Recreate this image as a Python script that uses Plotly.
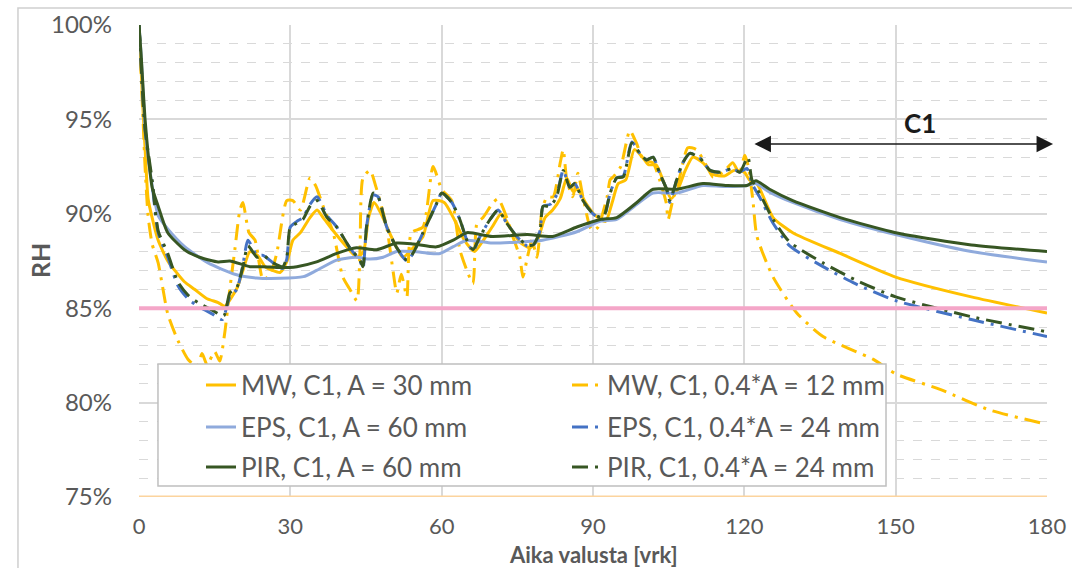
import plotly.graph_objects as go

# ---------------- data ----------------
mw_a_day = [0, 0.4, 0.8, 1.2, 1.8, 2.6, 3.8, 5.7, 7.1, 9, 11, 13.5, 15.7, 17, 18.4, 19.5, 20.6, 22,
            23.5, 25, 26.5, 28, 29.5, 30.5, 32, 33.9, 35.3, 36.5, 38.5, 41, 43.2, 44.5, 45.5, 46.6,
            48, 50, 52.3, 54, 56.3, 58.3, 60.5, 62.5, 64.5, 66.5, 68, 70, 71.8, 73.5, 75.5, 77.5,
            79, 80.5, 82, 83.5, 84.8, 86, 87, 88.5, 90.5, 92.5, 93.8, 95, 96.5, 98.2, 99.8, 101,
            102.5, 104, 105.5, 107, 108.3, 109.8, 111.8, 113.8, 116, 118, 120, 121, 122.5, 125.7,
            129.6, 139, 150, 165, 180]
mw_a_rh = [100, 97.8, 95.5, 93.5, 90.8, 89.8, 88.6, 87.5, 87.0, 86.4, 86.0, 85.5, 85.3, 85.1, 85.6,
           86.1, 87.0, 88.0, 87.8, 87.2, 87.0, 86.9, 87.6, 88.6, 89.0, 89.8, 90.2, 89.8, 89.1, 88.3,
           87.7, 88.0, 89.8, 90.6, 90.0, 88.8, 87.7, 88.1, 88.8, 90.7, 90.6, 89.7, 88.6, 88.0, 88.5,
           89.3, 90.0, 89.3, 88.5, 88.2, 88.6, 89.8, 90.2, 90.8, 91.9, 91.2, 91.3, 90.6, 89.9, 89.6,
           90.6, 91.6, 91.8, 93.4, 93.0, 92.6, 92.6, 91.7, 90.8, 91.4, 92.3, 93.0, 92.7, 92.1, 92.0,
           92.3, 92.2, 91.8, 91.6, 89.8, 89.0, 87.9, 86.65, 85.6, 84.75]

mw_04_day = [0, 0.4, 0.8, 1.2, 1.8, 2.6, 3.8, 5.7, 7.7, 9.7, 11.5, 12.5, 13.5, 15, 16, 17, 18, 19,
             20, 20.6, 21.8, 23, 24.6, 26, 27.3, 29.3, 30.5, 32, 33.9, 35, 36.5, 38.5, 40.4, 41.8,
             43.2, 43.8, 44.4, 45.8, 47, 49.1, 50.4, 51.1, 52, 53.1, 54, 56.3, 58.3, 60, 62, 63.6,
             65, 66.2, 67, 68.2, 70.2, 71.2, 72.9, 74.1, 75.5, 76.1, 77, 77.9, 78.9, 79.9, 80.9,
             82.1, 83.5, 84.1, 84.8, 86, 87, 88, 89.4, 90, 91, 92.8, 93.4, 94, 95.5, 97.3, 98.6,
             100, 101.9, 103.2, 104.5, 104.9, 105.8, 107.2, 108.8, 110.5, 112.6, 113.8, 115.8,
             117.7, 119, 120.1, 120.8, 121.7, 122.5, 125.7, 130.4, 135.6, 145.5, 150.2, 158.8,
             168.7, 180]
mw_04_rh = [100, 97.5, 95.0, 92.5, 89.9, 88.4, 87.4, 84.7, 83.3, 82.3, 81.9, 82.6, 82.0, 82.7, 82.2,
            83.7, 86.0, 88.1, 90.2, 90.6, 89.0, 88.6, 86.5, 86.8, 87.9, 90.7, 90.7, 90.2, 91.9, 91.5,
            90.4, 89.0, 86.65, 86.0, 85.4, 88.0, 91.9, 92.3, 91.4, 89.3, 86.9, 85.8, 86.8, 85.6,
            89.0, 89.3, 92.5, 91.3, 90.7, 88.1, 87.0, 86.3, 89.5, 89.8, 90.6, 90.8, 89.8, 88.8,
            87.7, 86.65, 87.7, 88.6, 87.7, 90.2, 90.9, 90.9, 92.7, 93.4, 91.8, 90.9, 92.15, 90.9,
            89.3, 89.1, 89.3, 90.9, 91.8, 91.95, 92.5, 94.4, 93.75, 92.85, 92.7, 91.8, 90.6, 89.7,
            90.7, 91.95, 93.5, 93.4, 92.5, 91.95, 92.2, 92.7, 92.15, 93.1, 92.5, 90.7, 88.8, 86.65,
            84.75, 83.5, 82.3, 81.5, 80.7, 79.6, 78.85]

eps_a_day = [0, 0.4, 0.8, 1.2, 1.8, 3.2, 3.8, 5.7, 9.1, 13.7, 19, 23.3, 28, 32.6, 35.2, 39.2, 43.1,
             45.8, 48.4, 51.1, 54.4, 57.7, 59.7, 62.3, 65, 70, 75, 80, 86.8, 91.4, 94.7, 98.7,
             101.9, 106.6, 111.8, 116, 120.5, 122.3, 125, 129.6, 139, 150, 165, 180]
eps_a_rh = [100, 98.5, 96.5, 94.6, 93.0, 90.6, 89.9, 89.2, 88.25, 87.4, 86.8, 86.6, 86.58, 86.67,
            87.0, 87.55, 87.7, 87.6, 87.7, 88.0, 88.0, 87.9, 87.9, 88.26, 88.6, 88.45, 88.5, 88.6,
            89.05, 89.6, 89.7, 90.5, 91.1, 91.1, 91.5, 91.45, 91.5, 91.6, 91.15, 90.6, 89.7, 88.9,
            88.0, 87.45]

eps_04_day = [0, 0.4, 0.8, 1.2, 1.8, 2.6, 3.8, 5.7, 7.7, 9.7, 11.7, 14.5, 16.5, 18, 19.4, 20.6,
              21.6, 23.4, 24.6, 26.6, 28.5, 29.3, 30, 31.3, 32.5, 33.9, 35.3, 37.3, 39.2, 41.8,
              43.8, 44.4, 45.1, 46.4, 47.4, 49.1, 51.1, 53.1, 54.3, 56.3, 59.1, 60, 62, 63.6, 65,
              66.2, 67.6, 69.6, 71.2, 72.9, 74.9, 76.9, 78.1, 79.5, 80.1, 81.5, 82.8, 84.1, 85.4,
              86.4, 88, 90, 92, 93.4, 94.7, 96, 97.7, 99.3, 100.6, 101.9, 103.2, 104.6, 105.2,
              106.6, 107.8, 109.2, 111.2, 113.2, 115.2, 117.7, 119.1, 120.5, 121.5, 123, 125.7,
              129, 135.6, 142, 150, 165, 180]
eps_04_rh = [100, 98.0, 96.0, 94.4, 93.1, 91.6, 89.0, 87.7, 86.2, 85.5, 85.1, 84.7, 84.4, 85.6,
             86.0, 87.3, 88.6, 87.8, 87.8, 87.4, 87.1, 87.6, 89.3, 89.6, 89.8, 90.5, 90.9, 89.9,
             89.3, 88.2, 87.5, 87.1, 89.3, 91.0, 90.9, 89.3, 88.2, 87.5, 87.9, 89.0, 90.6, 91.1,
             90.6, 89.7, 88.6, 88.0, 88.8, 89.7, 90.2, 89.5, 88.8, 88.3, 88.3, 89.1, 90.4, 90.5,
             91.0, 92.3, 91.4, 91.6, 90.7, 90.0, 89.7, 91.1, 91.9, 92.0, 93.8, 93.2, 92.85, 93.0,
             92.15, 91.3, 90.6, 91.8, 92.7, 93.2, 92.95, 92.3, 92.2, 92.4, 92.2, 92.4, 91.6, 90.9,
             89.5, 88.3, 87.2, 86.3, 85.4, 84.4, 83.5]

pir_a_day = [0, 0.4, 0.8, 1.2, 1.8, 2.6, 3.8, 5.7, 9, 12, 15.7, 18, 22, 24.6, 28, 31.3, 35.2,
             39.2, 43.1, 47.1, 51.1, 54.4, 59, 62.3, 65, 70, 77, 82, 86.8, 91.4, 94.7, 98.7,
             101.9, 106.6, 111.8, 116.5, 120.5, 122.3, 125, 129.6, 139, 150, 165, 180]
pir_a_rh = [100, 98.5, 96.7, 95.0, 93.2, 91.4, 90.4, 89.0, 88.1, 87.7, 87.45, 87.5, 87.2, 87.2,
            87.15, 87.2, 87.45, 87.9, 88.2, 88.1, 88.45, 88.4, 88.25, 88.6, 89.0, 88.8, 88.9, 88.8,
            89.3, 89.7, 89.8, 90.6, 91.3, 91.3, 91.6, 91.5, 91.5, 91.75, 91.3, 90.7, 89.8, 89.0,
            88.35, 88.0]

pir_04_day = [0, 0.4, 0.8, 1.2, 1.8, 2.6, 3.8, 5.7, 7.7, 9.7, 11.7, 14.5, 16.8, 18, 19.4, 20.6,
              21.6, 23.4, 24.6, 26.6, 28.5, 29.3, 30, 31.3, 32.5, 33.9, 35.3, 37.3, 39.2, 41.8,
              43.8, 44.4, 45.1, 46.4, 47.4, 49.1, 51.1, 53.1, 54.3, 56.3, 59.1, 60, 62, 63.6, 65,
              66.2, 67.6, 69.6, 71.2, 72.9, 74.9, 76.9, 78.1, 79.5, 80.1, 81.5, 82.8, 84.1, 85.4,
              86.4, 88, 90, 92, 93.4, 94.7, 96, 97.7, 99.3, 100.6, 101.9, 103.2, 104.6, 105.2,
              106.6, 107.8, 109.2, 111.2, 113.2, 115.2, 117.7, 119.1, 120.7, 121.5, 123, 125.7,
              129, 135.6, 142, 150, 165, 180]
pir_04_rh = [100, 98.0, 96.0, 94.5, 93.3, 91.8, 89.1, 87.9, 86.4, 85.7, 85.3, 84.9, 84.6, 85.8,
             86.1, 87.2, 88.3, 87.7, 87.8, 87.4, 87.2, 87.7, 89.3, 89.5, 89.7, 90.4, 90.7, 89.8,
             89.3, 88.2, 87.55, 87.2, 89.3, 91.1, 90.9, 89.3, 88.2, 87.55, 87.9, 89.0, 90.6, 91.1,
             90.6, 89.7, 88.6, 88.1, 88.8, 89.7, 90.2, 89.5, 88.8, 88.35, 88.35, 89.1, 90.4, 90.4,
             90.9, 92.3, 91.4, 91.6, 90.7, 90.0, 89.8, 91.1, 91.9, 91.95, 93.75, 93.2, 92.85, 93.0,
             92.15, 91.3, 90.7, 91.8, 92.7, 93.2, 92.95, 92.3, 92.2, 92.4, 92.2, 93.0, 91.8, 91.1,
             89.7, 88.5, 87.4, 86.5, 85.6, 84.55, 83.75]

series_names = ["MW, C1, A = 30 mm", "MW, C1, 0.4*A = 12 mm",
                "EPS, C1, A = 60 mm", "EPS, C1, 0.4*A = 24 mm",
                "PIR, C1, A = 60 mm", "PIR, C1, 0.4*A = 24 mm"]

x_ticks = [0, 30, 60, 90, 120, 150, 180]
y_ticks = [75, 80, 85, 90, 95, 100]
y_tick_labels = ["75%", "80%", "85%", "90%", "95%", "100%"]
x_title = "Aika valusta [vrk]"
y_title = "RH"
limit_rh = 85          # pink reference line
base_rh = 75           # bottom reference line
c1_start, c1_end, c1_level = 121.7, 181.2, 93.7
c1_label_x, c1_label_y = 154.8, 94.8

# ---------------- styling ----------------
GOLD = "#FFC000"
LBLUE = "#8FAADC"
BLUE = "#4472C4"
DGREEN = "#375623"
DD = "16px,7px,3px,7px"
TXT = "#595959"
FONT = "Lato"

fig = go.Figure()
data = [
    (mw_a_day, mw_a_rh, GOLD, "solid", "legend"),
    (mw_04_day, mw_04_rh, GOLD, DD, "legend"),
    (eps_a_day, eps_a_rh, LBLUE, "solid", "legend2"),
    (eps_04_day, eps_04_rh, BLUE, DD, "legend2"),
    (pir_a_day, pir_a_rh, DGREEN, "solid", "legend3"),
    (pir_04_day, pir_04_rh, DGREEN, DD, "legend3"),
]
for (xs, ys, col, dash, lg), name in zip(data, series_names):
    fig.add_trace(go.Scatter(x=xs, y=ys, mode="lines", name=name, legend=lg,
                             line=dict(color=col, width=3, dash=dash, shape="spline", smoothing=0.6)))

fig.add_hline(y=limit_rh, line=dict(color="#F4A6C8", width=4), layer="above")
fig.add_hline(y=base_rh, line=dict(color="#FCD49E", width=3), layer="above")

# outer chart border
fig.add_shape(type="rect", xref="paper", yref="paper", x0=-0.1333, x1=1.04, y0=-0.18, y1=1.036,
              line=dict(color="#CFCFCF", width=1.5), fillcolor="rgba(0,0,0,0)", layer="above")
# legend box
fig.add_shape(type="rect", xref="paper", yref="paper", x0=0.0209, x1=0.8227, y0=0.0233, y1=0.2818,
              line=dict(color="#BFBFBF", width=1.5), fillcolor="white", layer="above")

leg_common = dict(orientation="h", entrywidth=321, entrywidthmode="pixels",
                  bgcolor="rgba(0,0,0,0)", borderwidth=0, xanchor="left", yanchor="middle",
                  font=dict(family=FONT, size=26, color=TXT), traceorder="normal")
lx = (201 - 139) / 908

fig.update_layout(
    width=1072, height=568, autosize=False,
    margin=dict(l=139, r=25, t=25, b=71),
    paper_bgcolor="white", plot_bgcolor="white",
    font=dict(family=FONT, color=TXT),
    legend=dict(x=lx, y=(497 - 385) / 472, **leg_common),
    legend2=dict(x=lx, y=(497 - 427) / 472, **leg_common),
    legend3=dict(x=lx, y=(497 - 467) / 472, **leg_common),
    xaxis=dict(range=[0, 180], tickvals=x_ticks, showgrid=True, gridcolor="#D9D9D9", gridwidth=1.5,
               zeroline=False, showline=False, ticks="", ticklabelstandoff=14, automargin=False,
               tickfont=dict(family=FONT, size=22, color=TXT)),
    yaxis=dict(range=[75, 100], tickvals=y_ticks, ticktext=y_tick_labels, showgrid=True,
               gridcolor="#D9D9D9", gridwidth=1.5, zeroline=False, showline=False, ticks="",
               ticklabelstandoff=26, automargin=False,
               tickfont=dict(family=FONT, size=24, color=TXT),
               minor=dict(dtick=1, showgrid=True, gridcolor="#D9D9D9", griddash="dash", gridwidth=1)),
    annotations=[
        dict(x=c1_end, y=c1_level, ax=c1_start, ay=c1_level, xref="x", yref="y", axref="x",
             ayref="y", text="", showarrow=True, arrowside="end+start", arrowhead=2,
             arrowsize=2.2, arrowwidth=1.5, arrowcolor="#1A1A1A", standoff=0, startstandoff=0),
        dict(x=c1_label_x, y=c1_label_y, xref="x", yref="y", text="<b>C1</b>", showarrow=False,
             font=dict(family=FONT, size=26, color="#1A1A1A")),
        dict(x=0.5, y=(497 - 554) / 472, xref="paper", yref="paper", xanchor="center",
             yanchor="middle", text=f"<b>{x_title}</b>", showarrow=False,
             font=dict(family=FONT, size=22, color=TXT)),
        dict(x=(40 - 139) / 908, y=0.5, xref="paper", yref="paper", xanchor="center",
             yanchor="middle", text=f"<b>{y_title}</b>", textangle=-90, showarrow=False,
             font=dict(family=FONT, size=25, color=TXT)),
    ],
)

fig.write_html("out.html")
